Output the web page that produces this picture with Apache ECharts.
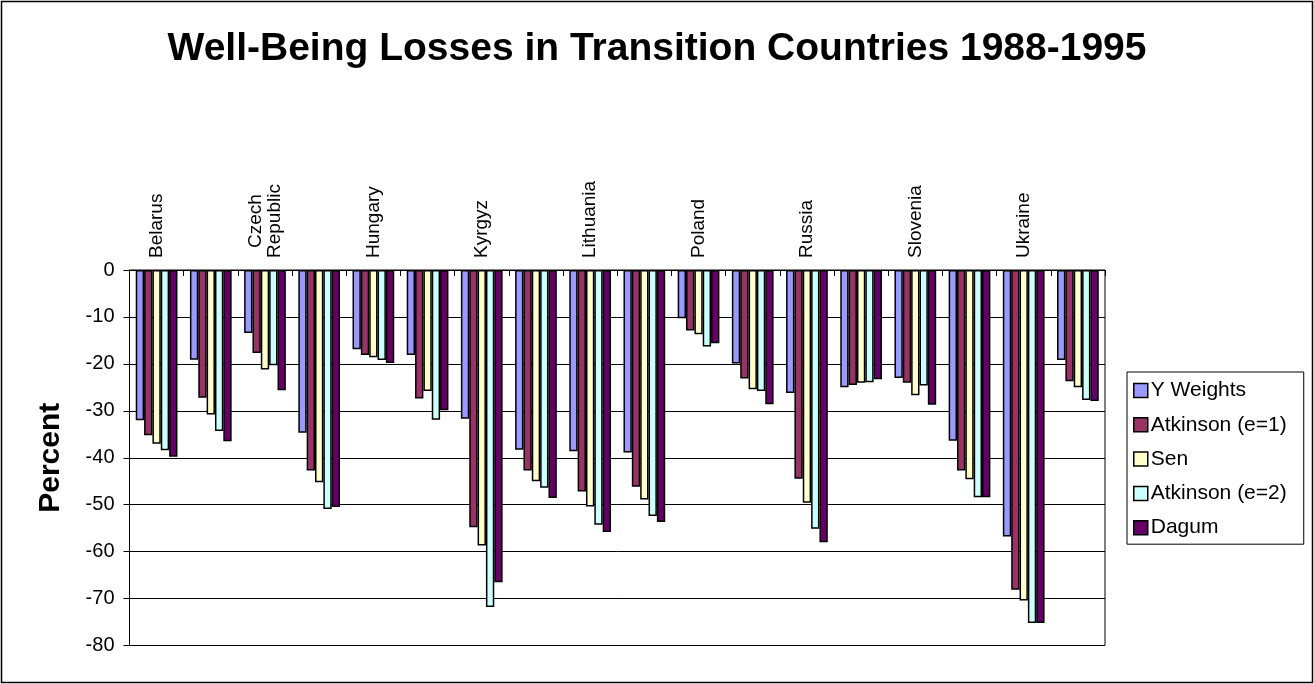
<!DOCTYPE html>
<html>
<head>
<meta charset="utf-8">
<script src="https://cdn.jsdelivr.net/npm/echarts@6/dist/echarts.min.js"></script>
<style>
html,body{margin:0;padding:0;background:#fff;}
#chart{width:1314px;height:684px;}
</style>
</head>
<body>
<div id="chart"></div>
<script>
// 18 categories: each country occupies two adjacent groups; only the first is labelled
var categories = ['Belarus','', 'Czech\nRepublic','', 'Hungary','', 'Kyrgyz','', 'Lithuania','',
                  'Poland','', 'Russia','', 'Slovenia','', 'Ukraine',''];
var seriesNames = ['Y Weights','Atkinson (e=1)','Sen','Atkinson (e=2)','Dagum'];
var yWeights   = [-32.0,-19.1,-13.4,-34.7,-16.9,-18.1,-31.7,-38.3,-38.6,-38.9,-10.3,-19.9,-26.2,-25.0,-23.0,-36.4,-56.8,-19.2];
var atkinson1  = [-35.2,-27.2,-17.7,-42.7,-18.1,-27.4,-54.8,-42.7,-47.2,-46.2,-12.9,-23.1,-44.5,-24.5,-24.0,-42.7,-68.1,-23.7];
var sen        = [-37.0,-30.8,-21.2,-45.2,-18.6,-25.8,-58.7,-45.0,-50.4,-48.9,-13.7,-25.4,-49.6,-24.0,-26.7,-44.6,-70.4,-25.0];
var atkinson2  = [-38.4,-34.3,-20.3,-50.9,-19.2,-31.9,-71.8,-46.4,-54.3,-52.4,-16.3,-25.8,-55.1,-23.9,-24.6,-48.4,-75.2,-27.7];
var dagum      = [-39.8,-36.5,-25.6,-50.5,-19.8,-29.9,-66.5,-48.6,-55.8,-53.7,-15.6,-28.6,-58.0,-23.3,-28.7,-48.4,-75.2,-27.9];
var colors = ['#9999FF','#993366','#FFFFCC','#CCFFFF','#660066'];
var allData = [yWeights, atkinson1, sen, atkinson2, dagum];

var FONT = '"Liberation Sans", Arial, Helvetica, sans-serif';
var chart = echarts.init(document.getElementById('chart'), null, {renderer:'canvas'});

var series = seriesNames.map(function(n, i){
  return {
    name: n, type: 'bar', data: allData[i],
    barGap: '0%', barCategoryGap: '23%',
    itemStyle: {color: colors[i], borderColor: '#000', borderWidth: 1.5},
    emphasis: {disabled: true}
  };
});

chart.setOption({
  animation: false,
  backgroundColor: '#fff',
  textStyle: {fontFamily: FONT},
  title: {
    text: 'Well-Being Losses in Transition Countries 1988-1995',
    left: 'center', top: 25,
    textStyle: {fontFamily: FONT, fontSize: 39, fontWeight: 'bold', color: '#000'}
  },
  legend: {
    orient: 'vertical', left: 1127, top: 372,
    data: seriesNames,
    icon: 'rect', itemWidth: 14, itemHeight: 14, itemGap: 13.3,
    padding: [8, 17, 6, 6],
    borderColor: '#000', borderWidth: 1, backgroundColor: '#fff',
    itemStyle: {borderColor: '#000', borderWidth: 1.5},
    textStyle: {fontFamily: FONT, fontSize: 21, color: '#000', lineHeight: 21, padding: [0,0,0,-2]}
  },
  grid: {left: 129.5, top: 270, right: 209, bottom: 38.5, show: true, borderColor: '#000', borderWidth: 1, backgroundColor: '#fff'},
  xAxis: {
    type: 'category', position: 'top', data: categories,
    axisLine: {show: true, onZero: false, lineStyle: {color: '#000', width: 1}},
    axisTick: {show: true, inside: true, length: 6, interval: 0, lineStyle: {color: '#000'}},
    axisLabel: {
      interval: 0, rotate: -90, margin: 12, color: '#000', fontSize: 19, fontFamily: FONT, lineHeight: 19, align: 'left',
      formatter: function(v){
        if (!v) return '';
        return v.split('\n').map(function(s){ return '{c|' + s + '}'; }).join('\n');
      },
      rich: {c: {align: 'center', fontSize: 19, fontFamily: FONT, color: '#000', lineHeight: 19}}
    },
    splitLine: {show: false}
  },
  yAxis: {
    type: 'value', min: -80, max: 0, interval: 10,
    name: 'Percent', nameLocation: 'middle', nameGap: 64, nameRotate: 90,
    nameTextStyle: {fontFamily: FONT, fontSize: 30, fontWeight: 'bold', color: '#000'},
    axisLine: {show: true, lineStyle: {color: '#000'}},
    axisTick: {show: true, length: 6, lineStyle: {color: '#000'}},
    axisLabel: {margin: 15, color: '#000', fontSize: 20, fontFamily: FONT},
    splitLine: {show: true, lineStyle: {color: '#000', width: 1}}
  },
  series: series,
  graphic: [{
    type: 'rect', silent: true, z: 100,
    shape: {x: 1.5, y: 1.5, width: 1311, height: 681},
    style: {fill: 'none', stroke: '#000', lineWidth: 1.5}
  }]
});
</script>
</body>
</html>
